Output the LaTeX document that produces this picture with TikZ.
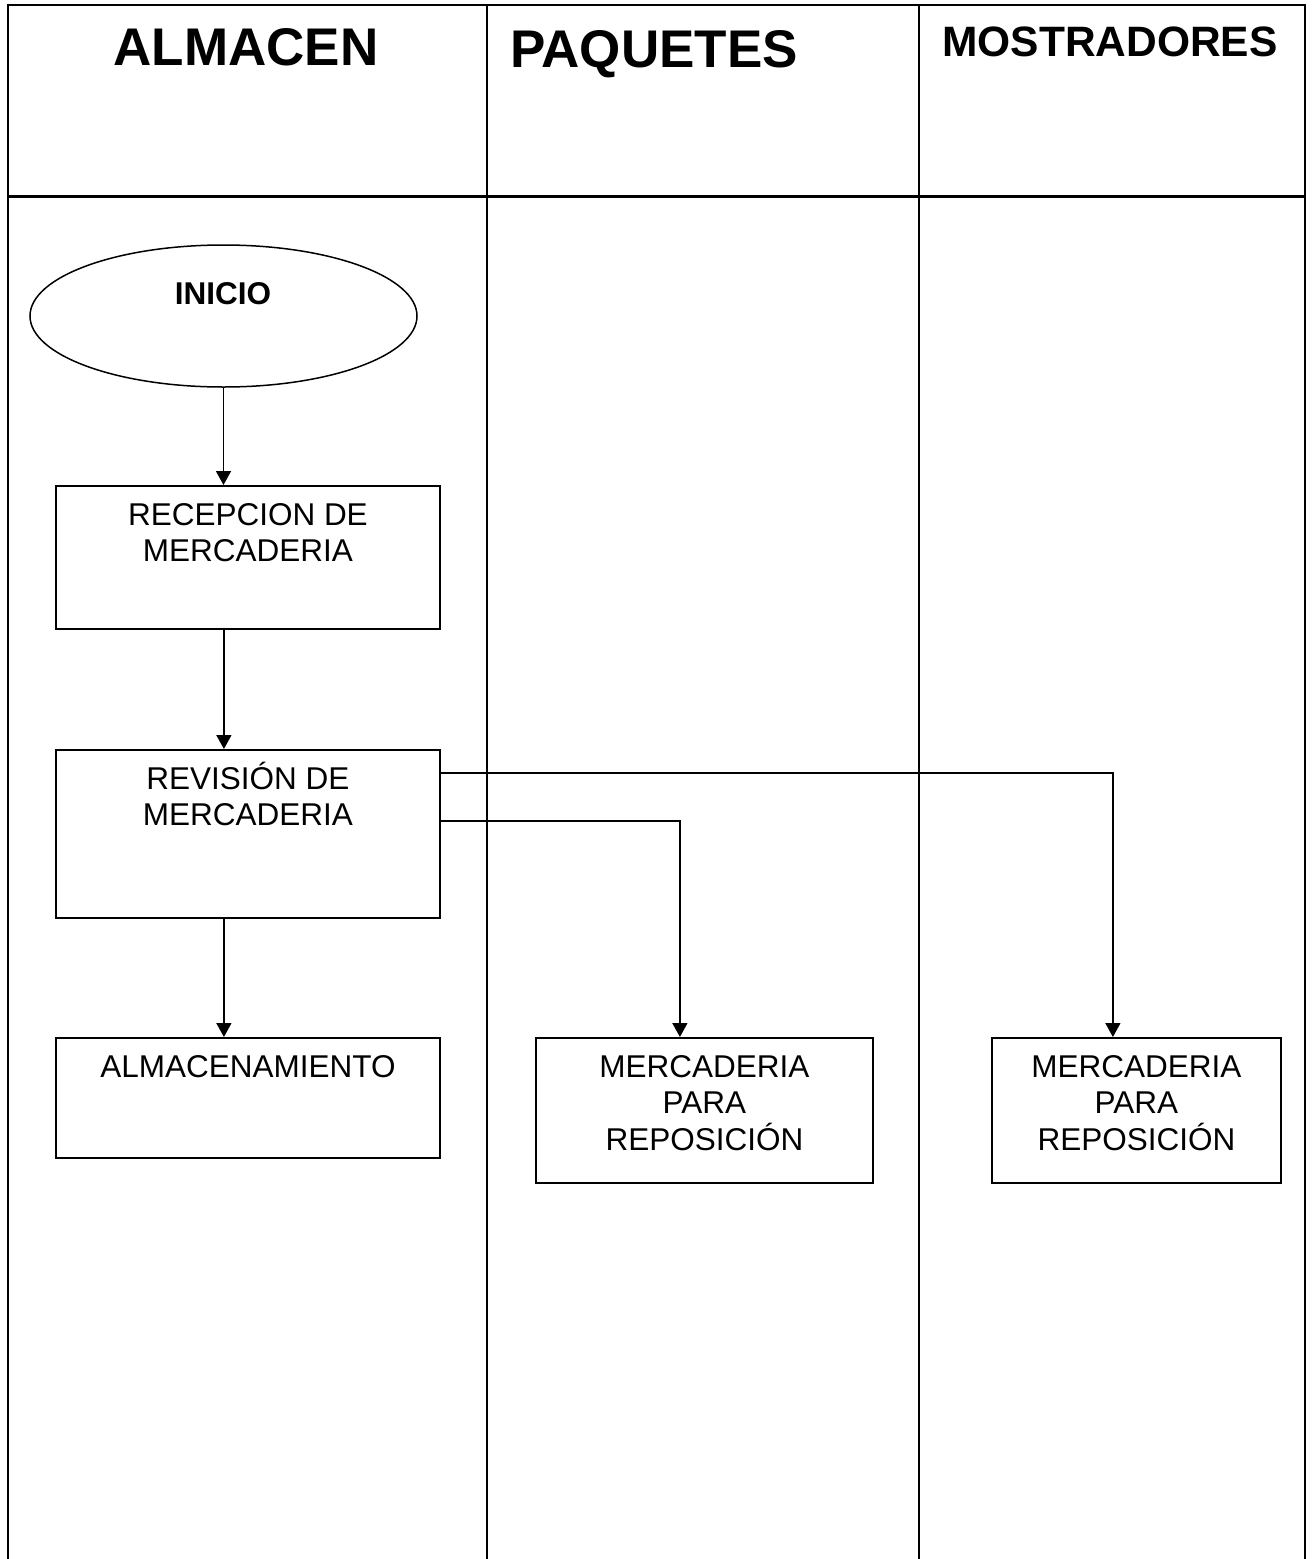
\documentclass[tikz,border=0pt]{standalone}
\usepackage{fontspec}
\setmainfont{Liberation Sans}
\usetikzlibrary{arrows.meta,shapes.geometric}
% invisible strut that fixes the height of the first text line
\newcommand{\firstln}{\rule{0pt}{30pt}}

\begin{document}
\begin{tikzpicture}[x=1pt,y=-1pt,
  lane/.style={line width=2pt},
  headrule/.style={line width=3pt},
  box/.style={draw, line width=1.8pt, rectangle, inner sep=0pt, anchor=north west},
  boxtext/.style={anchor=north, inner sep=0pt, align=center,
    font=\fontsize{31.5}{36.5}\selectfont},
  headtext/.style={anchor=base, inner sep=0pt, font=\bfseries\fontsize{#1}{#1}\selectfont},
  flow/.style={line width=1.6pt, -{Triangle[length=14pt,width=15pt]}}
]
\useasboundingbox (0,0) rectangle (1312,1559);

% swimlane frame
\draw[lane] (8,1559) -- (8,5) -- (1305,5) -- (1305,1559);
\draw[lane] (487,5) -- (487,1559);
\draw[lane] (919,5) -- (919,1559);
\draw[headrule] (8,196.5) -- (1305,196.5);

% lane headers
\node[headtext=53] (h1) at (246,65) {ALMACEN};
\node[headtext=53] (h2) at (654,67) {PAQUETES};
\node[headtext=42.5] (h3) at (1110,56) {MOSTRADORES};

% start terminal
\node[draw, ellipse, line width=1.5pt, minimum width=387pt, minimum height=142pt,
  inner sep=0pt] (ini) at (223.5,316) {};
\node[anchor=base, inner sep=0pt, font=\bfseries\fontsize{31.5}{31.5}\selectfont]
  (tini) at (223,304) {INICIO};

% process boxes
\node[box, minimum width=384pt, minimum height=143pt] (rec) at (55,485) {};
\node[box, minimum width=384pt, minimum height=168pt] (rev) at (55,749) {};
\node[box, minimum width=384pt, minimum height=120pt] (alm) at (55,1037) {};
\node[box, minimum width=337pt, minimum height=145pt] (mer1) at (535,1037) {};
\node[box, minimum width=289pt, minimum height=145pt] (mer2) at (991,1037) {};

\node[boxtext, yshift=-10pt] (trec) at (rec.north) {\firstln RECEPCION DE\\MERCADERIA};
\node[boxtext, yshift=-10pt] (trev) at (rev.north) {\firstln REVISIÓN DE\\MERCADERIA};
\node[boxtext, yshift=-10pt] (talm) at (alm.north) {\firstln ALMACENAMIENTO};
\node[boxtext, yshift=-10pt] (tmer1) at (mer1.north) {\firstln MERCADERIA\\PARA\\REPOSICIÓN};
\node[boxtext, yshift=-10pt] (tmer2) at (mer2.north) {\firstln MERCADERIA\\PARA\\REPOSICIÓN};

% connectors
\draw[flow] (ini.south) -- (ini.south |- rec.north);
\draw[flow] ([xshift=-24pt]rec.south) -- ([xshift=-24pt]rev.north);
\draw[flow] ([xshift=-24pt]rev.south) -- ([xshift=-24pt]alm.north);
\draw[flow] ([yshift=-72pt]rev.north east) -| ([xshift=-24.5pt]mer1.north);
\draw[flow] ([yshift=-24pt]rev.north east) -| ([xshift=-23.5pt]mer2.north);
\end{tikzpicture}
\end{document}
